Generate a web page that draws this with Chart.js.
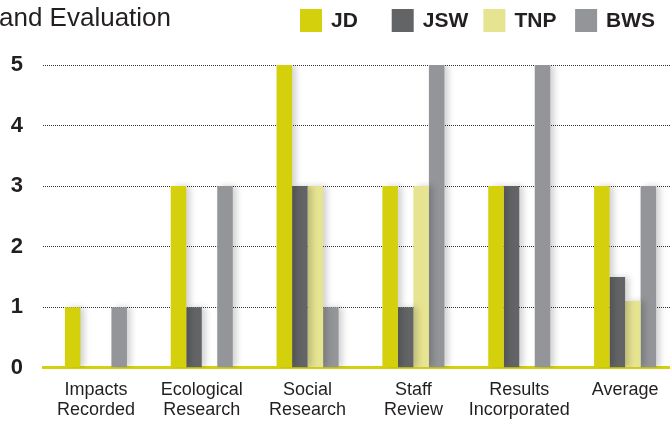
<!DOCTYPE html>
<html>
<head>
<meta charset="utf-8">
<script src="https://cdn.jsdelivr.net/npm/chart.js@4"></script>
<style>
  html, body { margin: 0; padding: 0; background: #fff; overflow: hidden; }
  #wrap { width: 690px; height: 434px; }
</style>
</head>
<body>
<div id="wrap"><canvas id="bar-chart"></canvas></div>
<script>
// Data
var categories = [['Impacts', 'Recorded'], ['Ecological', 'Research'], ['Social', 'Research'],
                  ['Staff', 'Review'], ['Results', 'Incorporated'], ['Average']];
var seriesNames = ['JD', 'JSW', 'TNP', 'BWS'];
var jdValues  = [1, 3, 5, 3, 3, 3];
var jswValues = [0, 1, 3, 1, 3, 1.5];
var tnpValues = [0, 0, 3, 3, 0, 1.1];
var bwsValues = [1, 3, 1, 5, 5, 3];
var yTicks = [0, 1, 2, 3, 4, 5];

var colors = ['#d4d10c', '#636466', '#e6e391', '#939598'];
var textColor = '#231f20';
var fontFamily = '"Liberation Sans", Arial, Helvetica, sans-serif';

// soft drop shadow on the bars
var barShadow = {
    id: 'barShadow',
    beforeDatasetsDraw: function(chart) {
        var c = chart.ctx;
        c.save();
        c.shadowColor = 'rgba(0,0,0,0.18)';
        c.shadowBlur = 6;
        c.shadowOffsetX = 4;
        c.shadowOffsetY = 0;
    },
    afterDatasetsDraw: function(chart) {
        chart.ctx.restore();
    }
};

// title fragment + legend at the top
var header = {
    id: 'header',
    afterDraw: function(chart) {
        var c = chart.ctx;
        c.save();
        c.fillStyle = textColor;
        c.font = '26px ' + fontFamily;
        c.textBaseline = 'alphabetic';
        c.textAlign = 'left';
        c.fillText('and Evaluation', -1, 26);

        c.font = 'bold 21px ' + fontFamily;
        c.textBaseline = 'middle';
        for (var i = 0; i < seriesNames.length; i++) {
            var x = 300 + i * 91.7;
            c.fillStyle = colors[i];
            c.fillRect(x, 9, 22, 23);
            c.fillStyle = textColor;
            c.fillText(seriesNames[i], x + 31, 21);
        }
        c.restore();
    }
};

var values = [jdValues, jswValues, tnpValues, bwsValues];
var datasets = seriesNames.map(function(name, i) {
    return {
        label: name,
        data: values[i],
        backgroundColor: colors[i],
        borderWidth: 0,
        barPercentage: 1,
        categoryPercentage: 0.586
    };
});

var ctx = document.getElementById('bar-chart').getContext('2d');
new Chart(ctx, {
    type: 'bar',
    data: { labels: categories, datasets: datasets },
    options: {
        responsive: true,
        maintainAspectRatio: false,
        animation: false,
        layout: { padding: { top: 65, bottom: 2, left: 0, right: 12 } },
        plugins: {
            legend: { display: false },
            title: { display: false },
            tooltip: { enabled: false }
        },
        scales: {
            x: {
                grid: { display: false, drawTicks: false },
                border: { display: true, color: '#d4d10c', width: 3 },
                ticks: {
                    color: textColor,
                    padding: 12,
                    maxRotation: 0,
                    autoSkip: false,
                    font: { family: fontFamily, size: 18, lineHeight: 1.12 }
                }
            },
            y: {
                min: yTicks[0],
                max: yTicks[yTicks.length - 1],
                afterFit: function(scale) { scale.width = 43; },
                afterBuildTicks: function(scale) {
                    scale.ticks = yTicks.map(function(v) { return { value: v }; });
                },
                border: { display: false, dash: [1, 1] },
                grid: {
                    color: '#333',
                    lineWidth: 1,
                    drawTicks: false
                },
                ticks: {
                    color: textColor,
                    padding: 20,
                    font: { family: fontFamily, size: 22, weight: 'bold' }
                }
            }
        }
    },
    plugins: [barShadow, header]
});
</script>
</body>
</html>
